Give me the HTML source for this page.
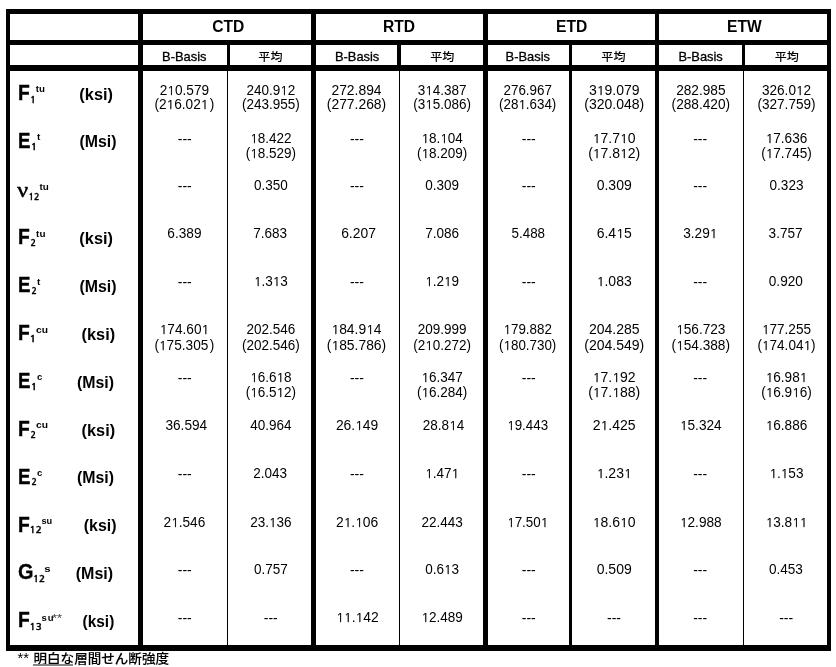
<!DOCTYPE html>
<html lang="ja">
<head>
<meta charset="utf-8">
<title>B-Basis / 平均</title>
<style>
html,body{margin:0;padding:0;background:#fff;}
body{width:836px;height:667px;overflow:hidden;position:relative;font-family:"Liberation Sans","Noto Sans CJK JP",sans-serif;color:#000;}
#sheet{position:absolute;left:0;top:0;width:836px;height:667px;overflow:hidden;background:#fff;}
.ln{position:absolute;background:#000;}
.t{position:absolute;left:0;top:0;white-space:nowrap;line-height:1;transform-origin:0 0;}
.grp{font-weight:bold;font-size:16px;}
.sub{font-size:12.9px;-webkit-text-stroke:0.3px #000;}
.jp{font-weight:500;font-size:11.6px;}
.num{font-size:14px;}
.sym{font-weight:bold;font-size:21.33px;-webkit-text-stroke:0.3px #000;}
.nu{font-family:'Liberation Serif','DejaVu Serif',serif;font-size:22px;-webkit-text-stroke:0.55px #000;}
.sb{font-family:'NanumGothic','Liberation Sans',sans-serif;font-weight:bold;font-size:9px;-webkit-text-stroke:0.3px #000;}
.sp{font-weight:bold;font-size:9.5px;}
.unit{font-weight:bold;font-size:16px;}
.note{font-size:12.6px;font-weight:500;-webkit-text-stroke:0.1px #000;}
.nast{font-size:15px;}
.ast{font-size:11px;color:#444;}
.spw{font-weight:bold;font-size:9.5px;letter-spacing:1.1px;}
.jp,.note{font-family:"Liberation Sans","Noto Sans CJK JP",sans-serif;}
.note u{text-decoration:none;}
.ul{position:absolute;background:#858585;}
.o{font-family:"NanumGothic","Liberation Sans",sans-serif;font-size:13px;display:inline-block;width:7.78px;text-align:center;-webkit-text-stroke:0.25px #000;}

</style>
</head>
<body>
<div id="sheet">
<div class="rules">
<div class="ln" style="left:6px;top:9px;width:825px;height:5px"></div>
<div class="ln" style="left:6px;top:40px;width:825px;height:5px"></div>
<div class="ln" style="left:6px;top:65px;width:825px;height:6px"></div>
<div class="ln" style="left:6px;top:645px;width:825px;height:6px"></div>
<div class="ln" style="left:6px;top:9px;width:4px;height:642px"></div>
<div class="ln" style="left:827px;top:9px;width:4px;height:642px"></div>
<div class="ln" style="left:138px;top:9px;width:5px;height:642px"></div>
<div class="ln" style="left:311px;top:9px;width:5px;height:642px"></div>
<div class="ln" style="left:483px;top:9px;width:5px;height:642px"></div>
<div class="ln" style="left:655px;top:9px;width:4px;height:642px"></div>
<div class="ln" style="left:227px;top:45px;width:3px;height:20px"></div>
<div class="ln" style="left:397px;top:45px;width:4px;height:20px"></div>
<div class="ln" style="left:569px;top:45px;width:3px;height:20px"></div>
<div class="ln" style="left:742px;top:45px;width:3px;height:20px"></div>
<div class="ln" style="left:227px;top:71px;width:1px;height:574px"></div>
<div class="ln" style="left:399px;top:71px;width:1px;height:574px"></div>
<div class="ln" style="left:569px;top:71px;width:3px;height:574px"></div>
<div class="ln" style="left:743px;top:71px;width:1px;height:574px"></div>
</div>
<div class="thead">
<div class="t grp" style="transform:translate(228.3px,19px) scaleX(0.975) translateX(-50%)">CTD</div>
<div class="t grp" style="transform:translate(399px,19px) scaleX(0.975) translateX(-50%)">RTD</div>
<div class="t grp" style="transform:translate(571.6px,19px) scaleX(0.975) translateX(-50%)">ETD</div>
<div class="t grp" style="transform:translate(744.3px,19px) scaleX(0.975) translateX(-50%)">ETW</div>
<div class="t sub" style="transform:translate(184.3px,51px) translateX(-50%)">B-Basis</div>
<div class="t jp" style="transform:translate(270.4px,51px) scaleX(1.04) translateX(-50%)">平均</div>
<div class="t sub" style="transform:translate(357.1px,51px) translateX(-50%)">B-Basis</div>
<div class="t jp" style="transform:translate(442.3px,51px) scaleX(1.04) translateX(-50%)">平均</div>
<div class="t sub" style="transform:translate(527.8px,51px) translateX(-50%)">B-Basis</div>
<div class="t jp" style="transform:translate(613.4px,51px) scaleX(1.04) translateX(-50%)">平均</div>
<div class="t sub" style="transform:translate(700.6px,51px) translateX(-50%)">B-Basis</div>
<div class="t jp" style="transform:translate(786.7px,51px) scaleX(1.04) translateX(-50%)">平均</div>
</div>
<div class="row" id="r1">
<div class="t sym" style="transform:translate(18.09px,83px) scaleX(0.905)">F</div>
<div class="t sb" style="transform:translate(29.9px,95px) scaleX(1.1)">1</div>
<div class="t sp" style="transform:translate(35.8px,84px) scaleX(1.025)">tu</div>
<div class="t unit" style="transform:translate(79.37px,87px) scaleX(1.02)">(ksi)</div>
<div class="t num" style="transform:translate(184.4px,83px) scaleX(0.975) translateX(-50%)">2<span class="o">1</span>0.579</div>
<div class="t num" style="transform:translate(184.4px,97px) scaleX(0.975) translateX(-50%)">(2<span class="o">1</span>6.02<span class="o">1</span><span style="margin-left:1.5px">)</span></div>
<div class="t num" style="transform:translate(270.8px,83px) scaleX(0.965) translateX(-50%)">240.9<span class="o">1</span>2</div>
<div class="t num" style="transform:translate(270.8px,97px) scaleX(0.965) translateX(-50%)">(243.955)</div>
<div class="t num" style="transform:translate(356.5px,83px) scaleX(0.99) translateX(-50%)">272.894</div>
<div class="t num" style="transform:translate(356.5px,97px) scaleX(0.99) translateX(-50%)">(277.268)</div>
<div class="t num" style="transform:translate(442.2px,83px) scaleX(0.965) translateX(-50%)">3<span class="o">1</span>4.387</div>
<div class="t num" style="transform:translate(442.2px,97px) scaleX(0.965) translateX(-50%)">(3<span class="o">1</span>5.086)</div>
<div class="t num" style="transform:translate(527.7px,83px) scaleX(0.955) translateX(-50%)">276.967</div>
<div class="t num" style="transform:translate(527.7px,97px) scaleX(0.955) translateX(-50%)">(28<span class="o">1</span>.634)</div>
<div class="t num" style="transform:translate(614.2px,83px) translateX(-50%)">3<span class="o">1</span>9.079</div>
<div class="t num" style="transform:translate(614.2px,97px) translateX(-50%)">(320.048)</div>
<div class="t num" style="transform:translate(700.8px,83px) scaleX(0.975) translateX(-50%)">282.985</div>
<div class="t num" style="transform:translate(700.8px,97px) scaleX(0.975) translateX(-50%)">(288.420)</div>
<div class="t num" style="transform:translate(786.5px,83px) scaleX(0.97) translateX(-50%)">326.0<span class="o">1</span>2</div>
<div class="t num" style="transform:translate(786.5px,97px) scaleX(0.97) translateX(-50%)">(327.759)</div>
</div>
<div class="row" id="r2">
<div class="t sym" style="transform:translate(18.12px,131px) scaleX(0.877)">E</div>
<div class="t sb" style="transform:translate(30.8px,142px) scaleX(1.2)">1</div>
<div class="t sp" style="transform:translate(37.1px,132px) scaleX(1.053)">t</div>
<div class="t unit" style="transform:translate(79.4px,134px) scaleX(0.992)">(Msi)</div>
<div class="t num" style="transform:translate(184.8px,132px) translateX(-50%)">---</div>
<div class="t num" style="transform:translate(270.8px,131px) scaleX(0.965) translateX(-50%)"><span class="o">1</span>8.422</div>
<div class="t num" style="transform:translate(270.8px,146px) scaleX(0.965) translateX(-50%)">(<span class="o">1</span>8.529)</div>
<div class="t num" style="transform:translate(356.9px,132px) translateX(-50%)">---</div>
<div class="t num" style="transform:translate(442.2px,131px) scaleX(0.965) translateX(-50%)"><span class="o">1</span>8.<span class="o">1</span>04</div>
<div class="t num" style="transform:translate(442.2px,146px) scaleX(0.965) translateX(-50%)">(<span class="o">1</span>8.209)</div>
<div class="t num" style="transform:translate(528.8px,132px) translateX(-50%)">---</div>
<div class="t num" style="transform:translate(614.2px,131px) translateX(-50%)"><span class="o">1</span>7.7<span class="o">1</span>0</div>
<div class="t num" style="transform:translate(614.2px,146px) translateX(-50%)">(<span class="o">1</span>7.8<span class="o">1</span>2)</div>
<div class="t num" style="transform:translate(700.2px,132px) translateX(-50%)">---</div>
<div class="t num" style="transform:translate(786.5px,131px) scaleX(0.97) translateX(-50%)"><span class="o">1</span>7.636</div>
<div class="t num" style="transform:translate(786.5px,146px) scaleX(0.97) translateX(-50%)">(<span class="o">1</span>7.745)</div>
</div>
<div class="row" id="r3">
<div class="t nu" style="transform:translate(17.19px,179px) scaleX(1.091)">ν</div>
<div class="t sb" style="transform:translate(28.5px,192px)">12</div>
<div class="t sp" style="transform:translate(39.5px,182px) scaleX(1.037)">tu</div>
<div class="t num" style="transform:translate(184.8px,179px) translateX(-50%)">---</div>
<div class="t num" style="transform:translate(270.8px,178px) scaleX(0.965) translateX(-50%)">0.350</div>
<div class="t num" style="transform:translate(356.9px,179px) translateX(-50%)">---</div>
<div class="t num" style="transform:translate(442.2px,178px) scaleX(0.965) translateX(-50%)">0.309</div>
<div class="t num" style="transform:translate(528.8px,179px) translateX(-50%)">---</div>
<div class="t num" style="transform:translate(614.2px,178px) translateX(-50%)">0.309</div>
<div class="t num" style="transform:translate(700.2px,179px) translateX(-50%)">---</div>
<div class="t num" style="transform:translate(786.5px,178px) scaleX(0.97) translateX(-50%)">0.323</div>
</div>
<div class="row" id="r4">
<div class="t sym" style="transform:translate(18.09px,227px) scaleX(0.905)">F</div>
<div class="t sb" style="transform:translate(30.4px,238px)">2</div>
<div class="t sp" style="transform:translate(36.1px,229px) scaleX(1.037)">tu</div>
<div class="t unit" style="transform:translate(79.37px,231px) scaleX(1.02)">(ksi)</div>
<div class="t num" style="transform:translate(184.4px,226px) scaleX(0.975) translateX(-50%)">6.389</div>
<div class="t num" style="transform:translate(270.1px,226px) scaleX(0.965) translateX(-50%)">7.683</div>
<div class="t num" style="transform:translate(358.5px,226px) scaleX(0.99) translateX(-50%)">6.207</div>
<div class="t num" style="transform:translate(442.2px,226px) scaleX(0.965) translateX(-50%)">7.086</div>
<div class="t num" style="transform:translate(528.3px,226px) scaleX(0.955) translateX(-50%)">5.488</div>
<div class="t num" style="transform:translate(614.2px,226px) translateX(-50%)">6.4<span class="o">1</span>5</div>
<div class="t num" style="transform:translate(700.3px,226px) scaleX(0.975) translateX(-50%)">3.29<span class="o">1</span></div>
<div class="t num" style="transform:translate(785.6px,226px) scaleX(0.97) translateX(-50%)">3.757</div>
</div>
<div class="row" id="r5">
<div class="t sym" style="transform:translate(18.12px,275px) scaleX(0.877)">E</div>
<div class="t sb" style="transform:translate(31.5px,286px) scaleX(0.98)">2</div>
<div class="t sp" style="transform:translate(37.1px,277px) scaleX(1.053)">t</div>
<div class="t unit" style="transform:translate(79.4px,279px) scaleX(0.992)">(Msi)</div>
<div class="t num" style="transform:translate(184.8px,275px) translateX(-50%)">---</div>
<div class="t num" style="transform:translate(270.8px,274px) scaleX(0.965) translateX(-50%)"><span class="o">1</span>.3<span class="o">1</span>3</div>
<div class="t num" style="transform:translate(356.9px,275px) translateX(-50%)">---</div>
<div class="t num" style="transform:translate(442.2px,274px) scaleX(0.965) translateX(-50%)"><span class="o">1</span>.2<span class="o">1</span>9</div>
<div class="t num" style="transform:translate(528.8px,275px) translateX(-50%)">---</div>
<div class="t num" style="transform:translate(614.2px,274px) translateX(-50%)"><span class="o">1</span>.083</div>
<div class="t num" style="transform:translate(700.2px,275px) translateX(-50%)">---</div>
<div class="t num" style="transform:translate(785.8px,274px) scaleX(0.97) translateX(-50%)">0.920</div>
</div>
<div class="row" id="r6">
<div class="t sym" style="transform:translate(18.09px,323px) scaleX(0.905)">F</div>
<div class="t sb" style="transform:translate(29.47px,334px) scaleX(1.233)">1</div>
<div class="t sp" style="transform:translate(36px,325px) scaleX(1.078)">cu</div>
<div class="t unit" style="transform:translate(81.57px,327px) scaleX(1.02)">(ksi)</div>
<div class="t num" style="transform:translate(184.4px,322px) scaleX(0.975) translateX(-50%)"><span class="o">1</span>74.60<span class="o">1</span></div>
<div class="t num" style="transform:translate(184.4px,338px) scaleX(0.975) translateX(-50%)">(<span class="o">1</span>75.305<span style="margin-left:1.5px">)</span></div>
<div class="t num" style="transform:translate(270.8px,322px) scaleX(0.965) translateX(-50%)">202.546</div>
<div class="t num" style="transform:translate(270.8px,338px) scaleX(0.965) translateX(-50%)">(202.546)</div>
<div class="t num" style="transform:translate(356.5px,322px) scaleX(0.99) translateX(-50%)"><span class="o">1</span>84.9<span class="o">1</span>4</div>
<div class="t num" style="transform:translate(356.5px,338px) scaleX(0.99) translateX(-50%)">(<span class="o">1</span>85.786)</div>
<div class="t num" style="transform:translate(442.2px,322px) scaleX(0.965) translateX(-50%)">209.999</div>
<div class="t num" style="transform:translate(442.2px,338px) scaleX(0.965) translateX(-50%)">(2<span class="o">1</span>0.272)</div>
<div class="t num" style="transform:translate(527.7px,322px) scaleX(0.955) translateX(-50%)"><span class="o">1</span>79.882</div>
<div class="t num" style="transform:translate(527.7px,338px) scaleX(0.955) translateX(-50%)">(<span class="o">1</span>80.730)</div>
<div class="t num" style="transform:translate(614.2px,322px) translateX(-50%)">204.285</div>
<div class="t num" style="transform:translate(614.2px,338px) translateX(-50%)">(204.549)</div>
<div class="t num" style="transform:translate(700.8px,322px) scaleX(0.975) translateX(-50%)"><span class="o">1</span>56.723</div>
<div class="t num" style="transform:translate(700.8px,338px) scaleX(0.975) translateX(-50%)">(<span class="o">1</span>54.388)</div>
<div class="t num" style="transform:translate(786.5px,322px) scaleX(0.97) translateX(-50%)"><span class="o">1</span>77.255</div>
<div class="t num" style="transform:translate(786.5px,338px) scaleX(0.97) translateX(-50%)">(<span class="o">1</span>74.04<span class="o">1</span>)</div>
</div>
<div class="row" id="r7">
<div class="t sym" style="transform:translate(18.12px,371px) scaleX(0.877)">E</div>
<div class="t sb" style="transform:translate(30.8px,382px) scaleX(1.2)">1</div>
<div class="t sp" style="transform:translate(37.1px,372px)">c</div>
<div class="t unit" style="transform:translate(77px,375px) scaleX(0.992)">(Msi)</div>
<div class="t num" style="transform:translate(184.8px,371px) translateX(-50%)">---</div>
<div class="t num" style="transform:translate(270.8px,370px) scaleX(0.965) translateX(-50%)"><span class="o">1</span>6.6<span class="o">1</span>8</div>
<div class="t num" style="transform:translate(270.8px,385px) scaleX(0.965) translateX(-50%)">(<span class="o">1</span>6.5<span class="o">1</span>2)</div>
<div class="t num" style="transform:translate(356.9px,371px) translateX(-50%)">---</div>
<div class="t num" style="transform:translate(442.2px,370px) scaleX(0.965) translateX(-50%)"><span class="o">1</span>6.347</div>
<div class="t num" style="transform:translate(442.2px,385px) scaleX(0.965) translateX(-50%)">(<span class="o">1</span>6.284)</div>
<div class="t num" style="transform:translate(528.8px,371px) translateX(-50%)">---</div>
<div class="t num" style="transform:translate(614.2px,370px) translateX(-50%)"><span class="o">1</span>7.<span class="o">1</span>92</div>
<div class="t num" style="transform:translate(614.2px,385px) translateX(-50%)">(<span class="o">1</span>7.<span class="o">1</span>88)</div>
<div class="t num" style="transform:translate(700.2px,371px) translateX(-50%)">---</div>
<div class="t num" style="transform:translate(786.5px,370px) scaleX(0.97) translateX(-50%)"><span class="o">1</span>6.98<span class="o">1</span></div>
<div class="t num" style="transform:translate(786.5px,385px) scaleX(0.97) translateX(-50%)">(<span class="o">1</span>6.9<span class="o">1</span>6)</div>
</div>
<div class="row" id="r8">
<div class="t sym" style="transform:translate(18.09px,419px) scaleX(0.905)">F</div>
<div class="t sb" style="transform:translate(30.4px,430px)">2</div>
<div class="t sp" style="transform:translate(36px,420px) scaleX(1.078)">cu</div>
<div class="t unit" style="transform:translate(81.57px,423px) scaleX(1.02)">(ksi)</div>
<div class="t num" style="transform:translate(186.3px,418px) scaleX(0.975) translateX(-50%)">36.594</div>
<div class="t num" style="transform:translate(270.8px,418px) scaleX(0.965) translateX(-50%)">40.964</div>
<div class="t num" style="transform:translate(357.1px,418px) scaleX(0.99) translateX(-50%)">26.<span class="o">1</span>49</div>
<div class="t num" style="transform:translate(443.5px,418px) scaleX(0.965) translateX(-50%)">28.8<span class="o">1</span>4</div>
<div class="t num" style="transform:translate(527.7px,418px) scaleX(0.955) translateX(-50%)"><span class="o">1</span>9.443</div>
<div class="t num" style="transform:translate(614.2px,418px) translateX(-50%)">2<span class="o">1</span>.425</div>
<div class="t num" style="transform:translate(700.8px,418px) scaleX(0.975) translateX(-50%)"><span class="o">1</span>5.324</div>
<div class="t num" style="transform:translate(786.5px,418px) scaleX(0.97) translateX(-50%)"><span class="o">1</span>6.886</div>
</div>
<div class="row" id="r9">
<div class="t sym" style="transform:translate(18.12px,467px) scaleX(0.877)">E</div>
<div class="t sb" style="transform:translate(31.5px,477px) scaleX(0.98)">2</div>
<div class="t sp" style="transform:translate(37.1px,468px)">c</div>
<div class="t unit" style="transform:translate(77px,470px) scaleX(0.992)">(Msi)</div>
<div class="t num" style="transform:translate(184.8px,467px) translateX(-50%)">---</div>
<div class="t num" style="transform:translate(270.1px,466px) scaleX(0.965) translateX(-50%)">2.043</div>
<div class="t num" style="transform:translate(356.9px,467px) translateX(-50%)">---</div>
<div class="t num" style="transform:translate(442.2px,466px) scaleX(0.965) translateX(-50%)"><span class="o">1</span>.47<span class="o">1</span></div>
<div class="t num" style="transform:translate(528.8px,467px) translateX(-50%)">---</div>
<div class="t num" style="transform:translate(614.2px,466px) translateX(-50%)"><span class="o">1</span>.23<span class="o">1</span></div>
<div class="t num" style="transform:translate(700.2px,467px) translateX(-50%)">---</div>
<div class="t num" style="transform:translate(786.5px,466px) scaleX(0.97) translateX(-50%)"><span class="o">1</span>.<span class="o">1</span>53</div>
</div>
<div class="row" id="r10">
<div class="t sym" style="transform:translate(18.09px,515px) scaleX(0.905)">F</div>
<div class="t sb" style="transform:translate(29.59px,525px) scaleX(1.115)">12</div>
<div class="t sp" style="transform:translate(41.44px,516px) scaleX(0.968)">su</div>
<div class="t unit" style="transform:translate(83.79px,518px) scaleX(0.994)">(ksi)</div>
<div class="t num" style="transform:translate(184.4px,515px) scaleX(0.975) translateX(-50%)">2<span class="o">1</span>.546</div>
<div class="t num" style="transform:translate(270.8px,515px) scaleX(0.965) translateX(-50%)">23.<span class="o">1</span>36</div>
<div class="t num" style="transform:translate(357.1px,515px) scaleX(0.99) translateX(-50%)">2<span class="o">1</span>.<span class="o">1</span>06</div>
<div class="t num" style="transform:translate(442.2px,515px) scaleX(0.965) translateX(-50%)">22.443</div>
<div class="t num" style="transform:translate(527.7px,515px) scaleX(0.955) translateX(-50%)"><span class="o">1</span>7.50<span class="o">1</span></div>
<div class="t num" style="transform:translate(614.2px,515px) translateX(-50%)"><span class="o">1</span>8.6<span class="o">1</span>0</div>
<div class="t num" style="transform:translate(700.8px,515px) scaleX(0.975) translateX(-50%)"><span class="o">1</span>2.988</div>
<div class="t num" style="transform:translate(786.5px,515px) scaleX(0.97) translateX(-50%)"><span class="o">1</span>3.8<span class="o">1</span><span class="o">1</span></div>
</div>
<div class="row" id="r11">
<div class="t sym" style="transform:translate(17.96px,562px) scaleX(0.933)">G</div>
<div class="t sb" style="transform:translate(32.98px,574px) scaleX(1.115)">12</div>
<div class="t sp" style="transform:translate(44.2px,564px) scaleX(1.199)">s</div>
<div class="t unit" style="transform:translate(75.79px,566px)">(Msi)</div>
<div class="t num" style="transform:translate(184.8px,563px) translateX(-50%)">---</div>
<div class="t num" style="transform:translate(270.8px,562px) scaleX(0.965) translateX(-50%)">0.757</div>
<div class="t num" style="transform:translate(356.9px,563px) translateX(-50%)">---</div>
<div class="t num" style="transform:translate(442.2px,562px) scaleX(0.965) translateX(-50%)">0.6<span class="o">1</span>3</div>
<div class="t num" style="transform:translate(528.8px,563px) translateX(-50%)">---</div>
<div class="t num" style="transform:translate(614.2px,562px) translateX(-50%)">0.509</div>
<div class="t num" style="transform:translate(700.2px,563px) translateX(-50%)">---</div>
<div class="t num" style="transform:translate(785.9px,562px) scaleX(0.97) translateX(-50%)">0.453</div>
</div>
<div class="row" id="r12">
<div class="t sym" style="transform:translate(18.09px,610px) scaleX(0.905)">F</div>
<div class="t sb" style="transform:translate(29.59px,622px) scaleX(1.112)">13</div>
<div class="t spw" style="transform:translate(41.42px,613px)">su</div>
<div class="t ast" style="transform:translate(52.12px,613px) scaleX(1.163)">**</div>
<div class="t unit" style="transform:translate(82.62px,614px) scaleX(0.962)">(ksi)</div>
<div class="t num" style="transform:translate(184.8px,611px) translateX(-50%)">---</div>
<div class="t num" style="transform:translate(270.8px,611px) translateX(-50%)">---</div>
<div class="t num" style="transform:translate(357.5px,610px) scaleX(0.99) translateX(-50%)"><span class="o">1</span><span class="o">1</span>.<span class="o">1</span>42</div>
<div class="t num" style="transform:translate(442.2px,610px) scaleX(0.965) translateX(-50%)"><span class="o">1</span>2.489</div>
<div class="t num" style="transform:translate(528.8px,611px) translateX(-50%)">---</div>
<div class="t num" style="transform:translate(614px,611px) translateX(-50%)">---</div>
<div class="t num" style="transform:translate(700.2px,611px) translateX(-50%)">---</div>
<div class="t num" style="transform:translate(786.2px,611px) translateX(-50%)">---</div>
</div>
<div class="foot">
<div class="t nast" style="transform:translate(17.39px,650px) scaleX(0.984)">**</div>
<div class="t note" style="transform:translate(33.5px,653px) scaleX(1.076)"><u>明白な</u>層間せん断強度</div>
<div class="ul" style="left:33px;top:664px;width:40px;height:2px"></div>
</div>
</div>
</body>
</html>
